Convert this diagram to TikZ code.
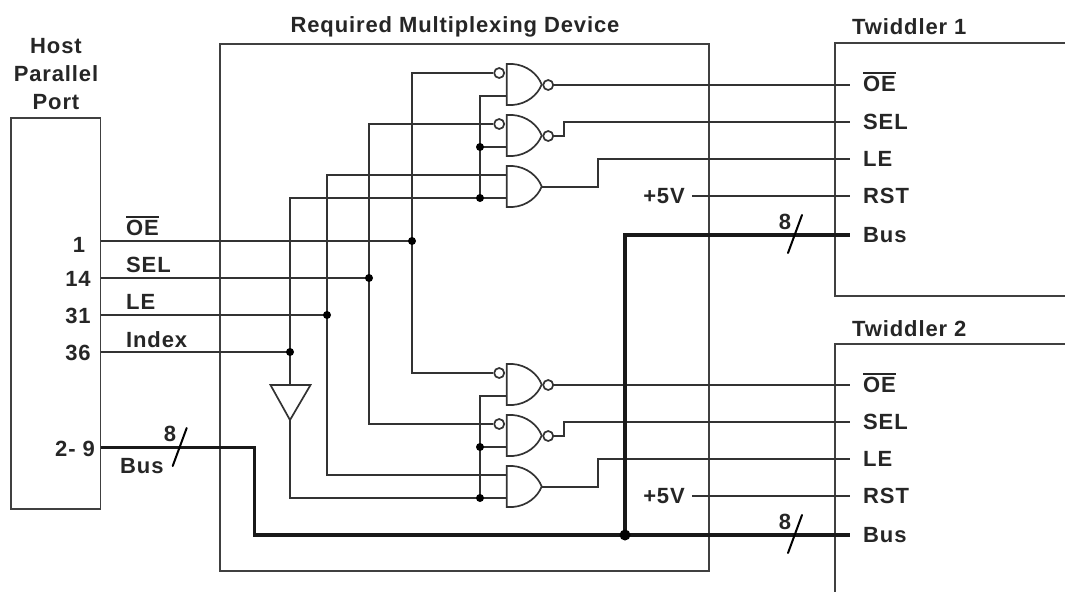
\documentclass[tikz,border=0pt]{standalone}
\usepackage{fontspec}
\setmainfont[LetterSpace=4]{Liberation Sans}
\def\oebar{\leavevmode\vbox{\hrule height 2.4pt \kern 2pt \hbox{OE}}}

\tikzset{
  wire/.style={line width=1.7pt, black!80},
  buswire/.style={line width=3.2pt, black!90},
  boxn/.style={draw, line width=1.7pt, black!75, inner sep=0pt},
  bubble/.style={circle, draw, line width=1.7pt, black!80, fill=white, minimum size=10pt, inner sep=0pt},
  lbl/.style={font=\fontsize{22}{22}\selectfont\bfseries, text=black!85, inner sep=0pt},
  jdot/.style={circle, fill=black, minimum size=8pt, inner sep=0pt}
}

\begin{document}
\begin{tikzpicture}[x=1pt, y=-1pt]
  \useasboundingbox (0,0) rectangle (1065,592);

  \def\gatebody#1#2{    \begin{scope}[shift={(506.7,#2)}]
      \draw[wire] (6,0) -- (0,0) -- (0,41) -- (6,41)
        .. controls (20,40) and (31,31) .. (35,20.5)
        .. controls (31,10) and (20,1) .. (6,0);
      \coordinate (#1a) at (0,9);
      \coordinate (#1b) at (0,32);
      \coordinate (#1o) at (35,21);
    \end{scope}
}
  \def\nandgate#1#2{    \gatebody{#1}{#2}
    \node[bubble] (#1x) at ([xshift=-7.5pt]#1a) {};
    \node[bubble] (#1y) at ([xshift=6.5pt]#1o) {};
}

  % boxes
  \node[boxn, minimum width=89.5pt, minimum height=391pt] (host) at (55.8,313.5) {};
  \node[boxn, minimum width=489pt, minimum height=527pt] (mux) at (464.3,307.5) {};
  \draw[boxn] (1065,43) -- (835,43) -- (835,296) -- (1065,296);
  \draw[boxn] (1065,344) -- (835,344) -- (835,592);

  % gates
  \nandgate{ga}{64}
  \nandgate{gb}{115}
  \gatebody{gc}{166}
  \nandgate{gd}{364}
  \nandgate{ge}{415}
  \gatebody{gf}{466}

  % port pins and the tap points on their lines
  \coordinate (poe) at (100.5,241);
  \coordinate (psel) at (100.5,278);
  \coordinate (ple) at (100.5,315);
  \coordinate (pidx) at (100.5,352);
  \coordinate (pbus) at (100.5,447.5);
  \coordinate (oet) at (412,241);
  \coordinate (selt) at (369,278);
  \coordinate (let) at (327,315);
  \coordinate (idxt) at (290,352);
  \coordinate (busk) at (254.5,535);
  \coordinate (busj) at (625,535);
  \coordinate (busu) at (625,235);

  \draw[wire] (poe) -- (oet);
  \draw[wire] (psel) -- (selt);
  \draw[wire] (ple) -- (let);
  \draw[wire] (pidx) -- (idxt);

  \draw[wire] (gax.west) -| (oet) |- (gdx.west);
  \draw[wire] (gbx.west) -| (selt) |- (gex.west);
  \draw[wire] (gca) -| (let) |- (gfa);

  % the inverter on Index
  \coordinate (invl) at (270.5,385);
  \coordinate (invr) at (310.5,385);
  \coordinate (invt) at (290,385);
  \coordinate (invb) at (290,420);
  \draw[wire] (invl) -- (invr) -- (invb) -- cycle;
  \draw[wire] (gcb) -| (idxt) -- (invt);
  \draw[wire] (invb) |- (gfb);

  % the common rails of the second inputs
  \coordinate (rab) at (480,96);
  \coordinate (rbb) at (480,147);
  \coordinate (rcb) at (480,198);
  \coordinate (rdb) at (480,396);
  \coordinate (reb) at (480,447);
  \coordinate (rfb) at (480,498);
  \draw[wire] (gab) -- (rab) -- (rcb);
  \draw[wire] (gbb) -- (rbb);
  \draw[wire] (gdb) -- (rdb) -- (rfb);
  \draw[wire] (geb) -- (reb);

  % twiddler 1 lines
  \coordinate (aoe) at (850,85);
  \coordinate (asel) at (850,122);
  \coordinate (ale) at (850,159);
  \coordinate (arst) at (850,196);
  \coordinate (abus) at (850,235);
  \coordinate (avcc) at (692,196);
  \draw[wire] (gay.east) -- (aoe);
  \draw[wire] (gby.east) -| (564.3,122) -- (asel);
  \draw[wire] (gco) -| (598,159) -- (ale);
  \draw[wire] (avcc) -- (arst);

  % twiddler 2 lines
  \coordinate (boe) at (850,385);
  \coordinate (bsel) at (850,422);
  \coordinate (ble) at (850,459);
  \coordinate (brst) at (850,496);
  \coordinate (bbus) at (850,535);
  \coordinate (bvcc) at (692,496);
  \draw[wire] (gdy.east) -- (boe);
  \draw[wire] (gey.east) -| (564.3,422) -- (bsel);
  \draw[wire] (gfo) -| (598,459) -- (ble);
  \draw[wire] (bvcc) -- (brst);

  % the bus
  \draw[buswire] (pbus) -| (busk) -- (bbus);
  \draw[buswire] (busj) -- (busu) -- (abus);

  % bus slashes
  \begin{scope}[line width=2pt, line cap=round]
    \draw (172.7,466) -- (186.7,428);
    \draw (788,253) -- (802,215);
    \draw (788,553) -- (802,515);
  \end{scope}

  % junctions
  \foreach \p in {oet,selt,let,idxt,rbb,rcb,reb,rfb}
    \node[jdot] at (\p) {};
  \node[jdot, minimum size=11pt] at (busj) {};

  % labels
  \node[lbl, align=center] (hostt) at (56,74) {Host\\[6pt]Parallel\\[6pt]Port};
  \node[lbl] (muxt) at (455,27) {Required Multiplexing Device};
  \node[lbl, anchor=west] (twa) at (852,27) {Twiddler 1};
  \node[lbl, anchor=west] (twb) at (852,329) {Twiddler 2};

  \node[lbl] (n1) at (79,245) {1};
  \node[lbl] (n14) at (78,279) {14};
  \node[lbl] (n31) at (78,316) {31};
  \node[lbl] (n36) at (78,353) {36};
  \node[lbl] (n29) at (75,449) {2- 9};

  \node[lbl, anchor=west] (loe) at (126,226) {\oebar};
  \node[lbl, anchor=west] (lsel) at (126,265) {SEL};
  \node[lbl, anchor=west] (lle) at (126,302) {LE};
  \node[lbl, anchor=west] (lidx) at (126,340) {Index};
  \node[lbl, anchor=west] (lbus) at (120,466) {Bus};
  \node[lbl] (l8) at (170,434) {8};

  \node[lbl, anchor=west] (aloe) at (863,82) {\oebar};
  \node[lbl, anchor=west] (alsel) at (863,122) {SEL};
  \node[lbl, anchor=west] (alle) at (863,159) {LE};
  \node[lbl, anchor=west] (alrst) at (863,196) {RST};
  \node[lbl, anchor=west] (albus) at (863,235) {Bus};
  \node[lbl, anchor=east] (alv) at (685,196) {+5V};
  \node[lbl] (al8) at (785,222) {8};

  \node[lbl, anchor=west] (bloe) at (863,383) {\oebar};
  \node[lbl, anchor=west] (blsel) at (863,422) {SEL};
  \node[lbl, anchor=west] (blle) at (863,459) {LE};
  \node[lbl, anchor=west] (blrst) at (863,496) {RST};
  \node[lbl, anchor=west] (blbus) at (863,535) {Bus};
  \node[lbl, anchor=east] (blv) at (685,496) {+5V};
  \node[lbl] (bl8) at (785,522) {8};
\end{tikzpicture}
\end{document}
